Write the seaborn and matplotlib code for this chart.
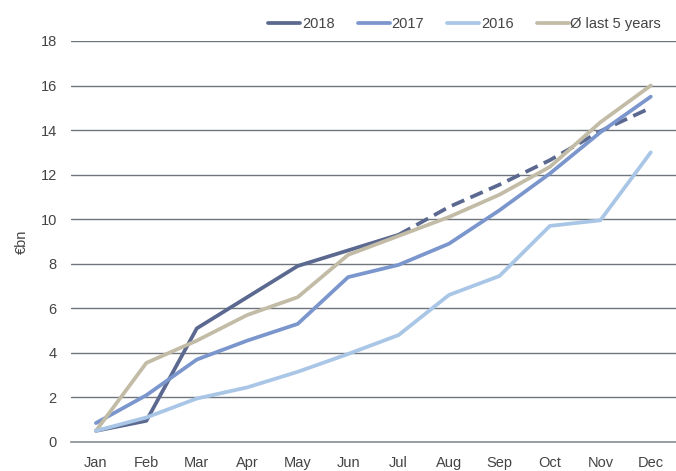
import matplotlib
matplotlib.use('Agg')
import matplotlib.pyplot as plt
import seaborn as sns
import pandas as pd

# ─── data (cumulative, €bn) ───────────────────────────────────
months = ['Jan', 'Feb', 'Mar', 'Apr', 'May', 'Jun',
          'Jul', 'Aug', 'Sep', 'Oct', 'Nov', 'Dec']
y2018 = [0.5, 0.95, 5.1, 6.5, 7.9, 8.6, 9.3]
y2018_forecast = [9.3, 10.55, 11.55, 12.65, 13.95, 15.0]
y2017 = [0.85, 2.1, 3.7, 4.55, 5.3, 7.4, 7.95, 8.9, 10.4, 12.05, 13.9, 15.5]
y2016 = [0.5, 1.1, 1.95, 2.45, 3.15, 3.95, 4.8, 6.6, 7.45, 9.7, 9.95, 13.0]
avg5 = [0.5, 3.55, 4.55, 5.7, 6.5, 8.4, 9.25, 10.1, 11.1, 12.35, 14.35, 16.0]
yticks = list(range(0, 20, 2))

c2018 = '#5b6990'
c2017 = '#7a96cd'
c2016 = '#a9c6e6'
cavg = '#c2bba6'
txt = '#444444'

sns.set_style('white')
plt.rcParams['font.family'] = ['Liberation Sans', 'DejaVu Sans']

fig = plt.figure(figsize=(6.76, 4.71), dpi=100)
ax = fig.add_axes([0.1046, 0.0616, 0.8954, 0.8514])

lw = 2.7
sns.lineplot(x=months[:7], y=y2018, color=c2018, lw=lw, ax=ax,
             label='2018', sort=False)
sns.lineplot(x=months[6:], y=y2018_forecast, color=c2018, lw=lw, ax=ax,
             linestyle=(0, (3.6, 1.8)), sort=False)
sns.lineplot(x=months, y=y2017, color=c2017, lw=lw, ax=ax,
             label='2017', sort=False)
sns.lineplot(x=months, y=avg5, color=cavg, lw=lw, ax=ax,
             label='Ø last 5 years', sort=False)
sns.lineplot(x=months, y=y2016, color=c2016, lw=lw, ax=ax,
             label='2016', sort=False)

ax.set_xlim(-0.5, 11.5)
ax.set_ylim(0, 18)
ax.set_yticks(yticks)
ax.yaxis.grid(True, color='#6f757b', lw=1.0)
ax.set_axisbelow(True)
for s in ['left', 'right', 'top']:
    ax.spines[s].set_visible(False)
ax.spines['bottom'].set_color('#8a8e92')
ax.spines['bottom'].set_linewidth(1.2)
ax.tick_params(axis='both', length=0, labelsize=10.5, colors=txt, pad=10)
ax.set_ylabel('€bn', fontsize=10.5, color=txt, labelpad=8)
ax.set_xlabel('')

# legend in reference order
h, l = ax.get_legend_handles_labels()
order = [l.index(k) for k in ['2018', '2017', '2016', 'Ø last 5 years']]
leg = ax.legend([h[i] for i in order], [l[i] for i in order],
                ncol=4, frameon=False, loc='lower right',
                bbox_to_anchor=(0.985, 1.01), handlelength=2.2,
                handletextpad=0.1, columnspacing=1.6, fontsize=10.5,
                borderaxespad=0)
for t in leg.get_texts():
    t.set_color(txt)

fig.savefig('out.png', dpi=100)
